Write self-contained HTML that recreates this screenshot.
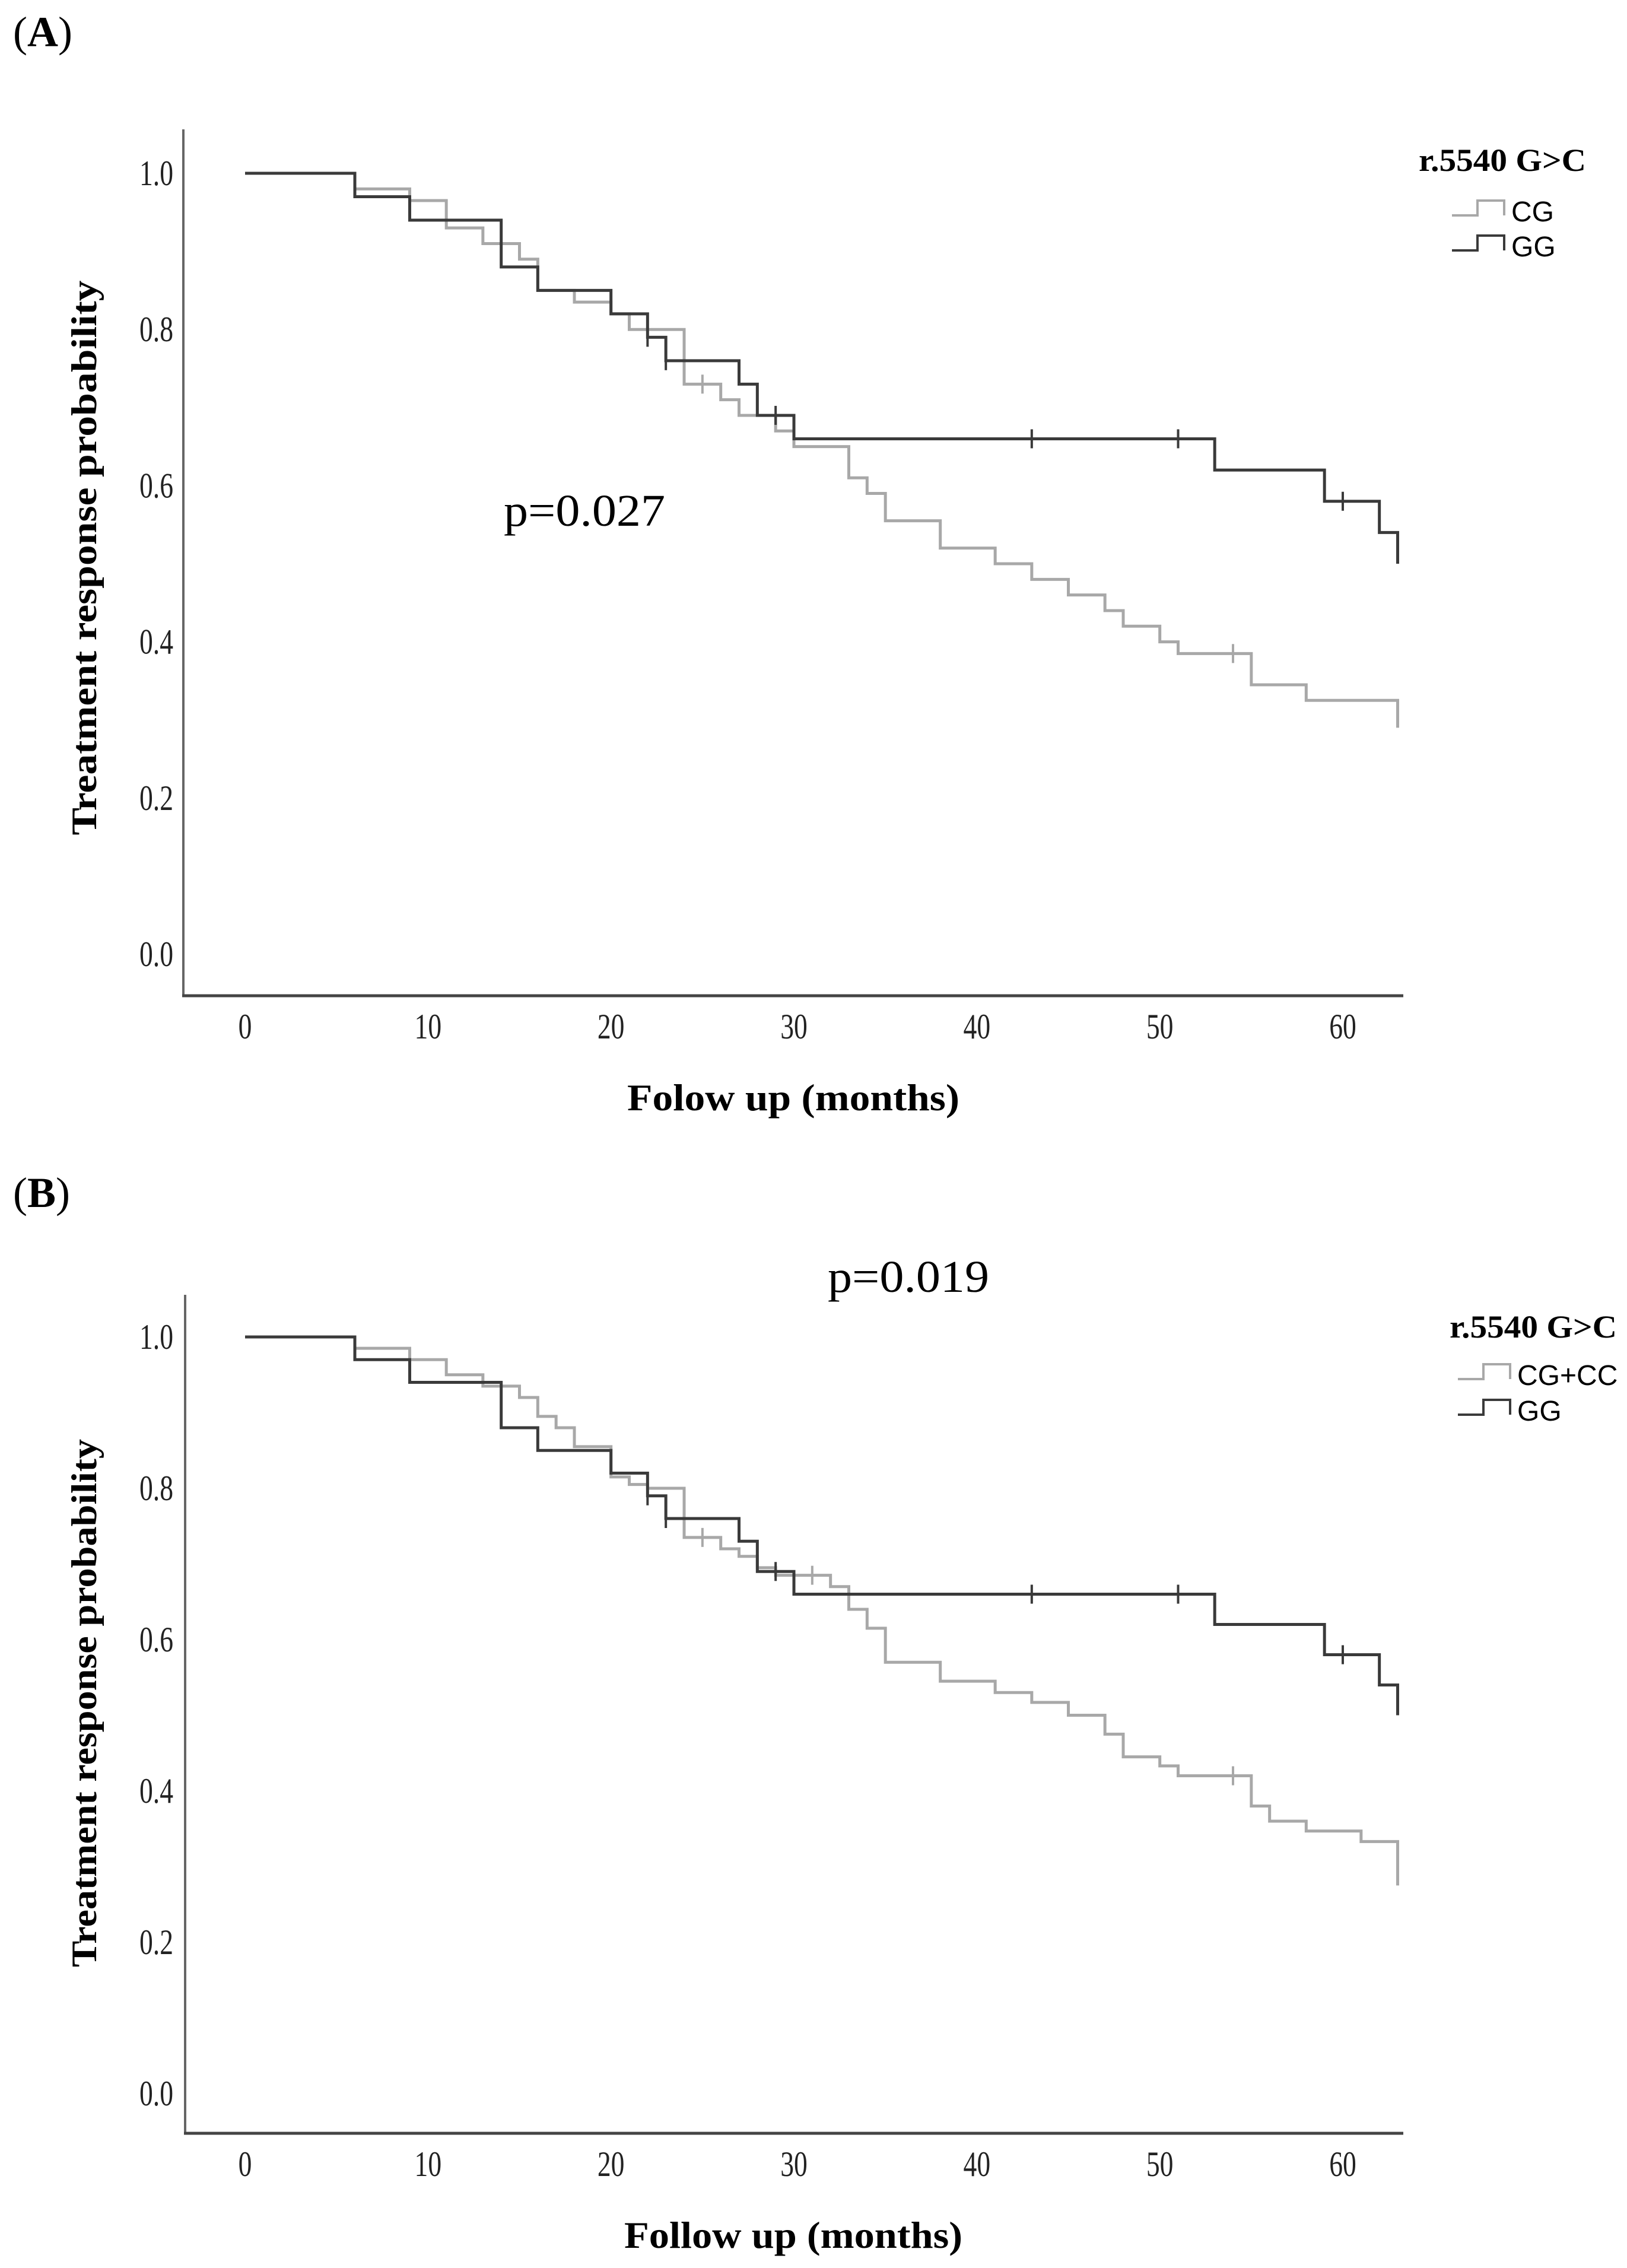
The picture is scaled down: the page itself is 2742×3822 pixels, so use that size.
<!DOCTYPE html>
<html><head><meta charset="utf-8"><style>
html,body{margin:0;padding:0;background:#fff;}
svg{display:block;}
</style></head><body>
<svg id="fig" width="2742" height="3822" viewBox="0 0 2742 3822" xmlns="http://www.w3.org/2000/svg"></svg>
<script>
// ---- data ----
const xTicks = [0,10,20,30,40,50,60];
const yTicks = [0.0,0.2,0.4,0.6,0.8,1.0];
const yTickLabels = ["0.0","0.2","0.4","0.6","0.8","1.0"];
// Panel A
const aCgTimes = [0,6,9,11,13,15,16,18,20,21,24,26,27,29,30,33,34,35,38,41,43,45,47,48,50,51,55,58,63];
const aCgVals  = [1,0.98,0.965,0.93,0.91,0.89,0.85,0.835,0.82,0.80,0.73,0.71,0.69,0.67,0.65,0.61,0.59,0.555,0.52,0.50,0.48,0.46,0.44,0.42,0.40,0.385,0.345,0.325,0.29];
const aCgCensor = [25,54];
const aGgTimes = [0,6,9,14,16,20,22,23,27,28,30,53,59,62,63];
const aGgVals  = [1,0.97,0.94,0.88,0.85,0.82,0.79,0.76,0.73,0.69,0.66,0.62,0.58,0.54,0.50];
const aGgCensor = [22,23,29,43,51,60];
// Panel B
const bCgTimes = [0,6,9,11,13,15,16,17,18,20,21,22,24,26,27,28,29,32,33,34,35,38,41,43,45,47,48,50,51,55,56,58,61,63];
const bCgVals  = [1,0.985,0.97,0.95,0.935,0.92,0.895,0.88,0.855,0.815,0.805,0.80,0.735,0.72,0.71,0.695,0.685,0.67,0.64,0.615,0.57,0.545,0.53,0.517,0.50,0.475,0.445,0.433,0.42,0.38,0.36,0.347,0.333,0.275];
const bCgCensor = [25,31,54];
const bGgTimes = [0,6,9,14,16,20,22,23,27,28,30,53,59,62,63];
const bGgVals  = [1,0.97,0.94,0.88,0.85,0.82,0.79,0.76,0.73,0.69,0.66,0.62,0.58,0.54,0.50];
const bGgCensor = [22,23,29,43,51,60];

const NS = "http://www.w3.org/2000/svg";
const svg = document.getElementById('fig');
function mk(tag, attrs, parent, text){
  const e = document.createElementNS(NS, tag);
  for (const k in attrs) e.setAttribute(k, attrs[k]);
  if (text !== undefined) e.textContent = text;
  (parent||svg).appendChild(e);
  return e;
}
function stepVal(times, vals, t){
  let v = vals[0];
  for (let i=0;i<times.length;i++){ if (times[i] <= t) v = vals[i]; }
  return v;
}
function drawPanel(cfg){
  const g = mk('g', {});
  
  
  const X = t => cfg.x0 + (t/60)*(cfg.x60 - cfg.x0);
  const Y = v => cfg.y0 + v*(cfg.y1 - cfg.y0);
  // panel label
  const lab = mk('text', {x:22, y:cfg.labelY, 'font-family':'"Liberation Serif", serif', 'font-size':72, fill:'#000'}, g);
  lab.innerHTML = '(<tspan font-weight="bold">'+cfg.letter+'</tspan>)';
  
  
  // axes
  const ya = mk('line', {x1:cfg.axL, y1:cfg.axTop, x2:cfg.axL, y2:cfg.axB, stroke:'#666', 'stroke-width':4}, g);
  
  
  const xa = mk('line', {x1:cfg.axL-2, y1:cfg.axB, x2:2365, y2:cfg.axB, stroke:'#444', 'stroke-width':5}, g);
  
  
  // y ticks
  yTicks.forEach((v,i)=>{
    const t = mk('text', {transform:'translate(292,'+(Y(v)+20)+') scale(0.76,1)', 'text-anchor':'end', 'font-family':'"Liberation Serif", serif', 'font-size':60, fill:'#222'}, g, yTickLabels[i]);
    
    
  });
  xTicks.forEach(v=>{
    const t = mk('text', {transform:'translate('+X(v)+','+(cfg.axB+72)+') scale(0.76,1)', 'text-anchor':'middle', 'font-family':'"Liberation Serif", serif', 'font-size':60, fill:'#222'}, g, String(v));
    
    
  });
  // titles
  const xt = mk('text', {x:1337, y:cfg.axB+193, 'text-anchor':'middle', 'font-family':'"Liberation Serif", serif', 'font-weight':'bold', 'font-size':64, textLength:cfg.xTitleW, lengthAdjust:'spacingAndGlyphs', fill:'#000'}, g, cfg.xTitle);
  
  
  const yt = mk('text', {transform:'translate(162,'+cfg.yTitleC+') rotate(-90)', 'text-anchor':'middle', 'font-family':'"Liberation Serif", serif', 'font-weight':'bold', 'font-size':60, textLength:cfg.yTitleW, lengthAdjust:'spacingAndGlyphs', fill:'#000'}, g, 'Treatment response probability');
  
  
  // p value
  const pv = mk('text', {x:cfg.pX, y:cfg.pY, 'font-family':'"Liberation Serif", serif', 'font-size':76, textLength:272, lengthAdjust:'spacingAndGlyphs', fill:'#000'}, g, cfg.pText);
  
  
  // series
  cfg.series.forEach(s=>{
    let d = 'M'+X(s.times[0])+','+Y(s.vals[0]);
    for (let i=1;i<s.times.length;i++){
      d += ' H'+X(s.times[i])+' V'+Y(s.vals[i]);
    }
    const p = mk('path', {d:d, fill:'none', stroke:s.color, 'stroke-width':5}, g);
    
    
    s.censor.forEach(t=>{
      const cx = X(t), cy = Y(stepVal(s.times, s.vals, t));
      const c = mk('line', {x1:cx, y1:cy-16, x2:cx, y2:cy+16, stroke:s.color, 'stroke-width':4}, g);
      
      
    });
  });
  // legend
  const lg = mk('g', {}, g);
  
  
  const lt = mk('text', {x:cfg.legX, y:cfg.legY, 'font-family':'"Liberation Serif", serif', 'font-weight':'bold', 'font-size':54, textLength:282, lengthAdjust:'spacingAndGlyphs', fill:'#000'}, lg, 'r.5540 G>C');
  
  
  cfg.series.forEach((s,i)=>{
    const by = cfg.legEntryY[i];
    const ix = cfg.legIconX;
    const ic = mk('path', {d:'M'+ix+','+(by-10)+' H'+(ix+43)+' V'+(by-35)+' H'+(ix+88)+' V'+(by-10), fill:'none', stroke:s.color, 'stroke-width':4}, lg);
    
    
    const tx = mk('text', {x:ix+100, y:by, 'font-family':'"Liberation Sans", sans-serif', 'font-size':48, fill:'#000'}, lg, s.label);
    
    
  });
}
drawPanel({name:'panel-a', letter:'A', labelY:78, x0:413, x60:2263, y0:1608, y1:292, axL:309, axTop:218, axB:1678,
  xTitle:'Folow up (months)', xTitleW:560, yTitleC:940, yTitleW:935,
  pText:'p=0.027', pX:849, pY:886,
  legX:2391, legY:288, legIconX:2447, legEntryY:[373,432],
  series:[
    {name:'cg', label:'CG', color:'#a8a8a8', times:aCgTimes, vals:aCgVals, censor:aCgCensor},
    {name:'gg', label:'GG', color:'#3a3a3a', times:aGgTimes, vals:aGgVals, censor:aGgCensor}
  ]});
drawPanel({name:'panel-b', letter:'B', labelY:2034, x0:413, x60:2263, y0:3528, y1:2253, axL:312, axTop:2182, axB:3595,
  xTitle:'Follow up (months)', xTitleW:570, yTitleC:2870, yTitleW:890,
  pText:'p=0.019', pX:1395, pY:2177,
  legX:2443, legY:2254, legIconX:2457, legEntryY:[2334,2394],
  series:[
    {name:'cg-cc', label:'CG+CC', color:'#a8a8a8', times:bCgTimes, vals:bCgVals, censor:bCgCensor},
    {name:'gg', label:' GG', color:'#3a3a3a', times:bGgTimes, vals:bGgVals, censor:bGgCensor}
  ]});
</script>
</body></html>
